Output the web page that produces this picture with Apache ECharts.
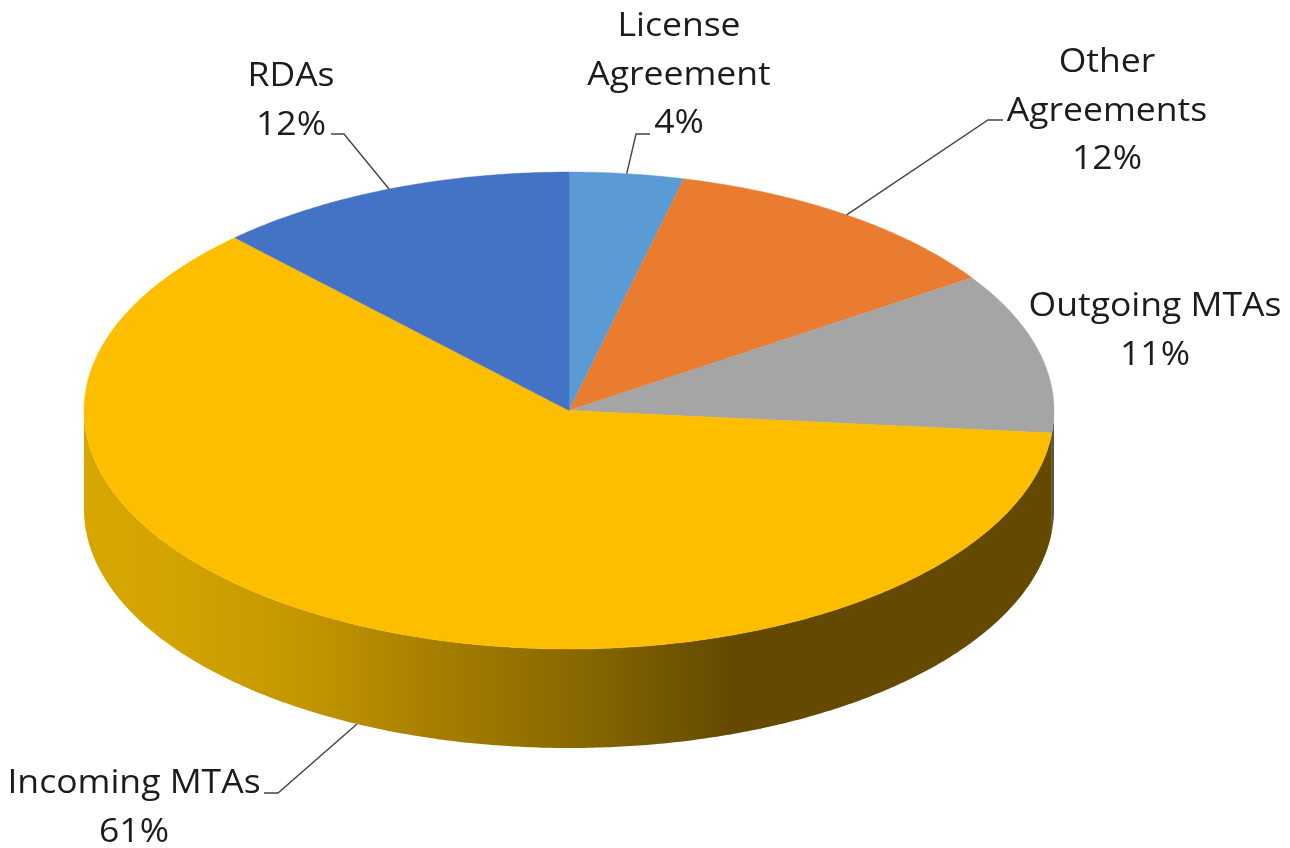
<!DOCTYPE html>
<html>
<head>
<meta charset="utf-8">
<style>html,body{margin:0;padding:0;background:#fff}#c{width:1290px;height:848px}</style>
<script src="https://cdn.jsdelivr.net/npm/echarts@6/dist/echarts.min.js"></script>
</head>
<body>
<div id="c"></div>
<script>
// Data
var categories = ['License\nAgreement', 'Other\nAgreements', 'Outgoing MTAs', 'Incoming MTAs', 'RDAs'];
var shares = [3.8, 11.8, 10.9, 61.4, 12.1];

// Styling
var topColors = ['#5B9BD5', '#EA7C30', '#A5A5A5', '#FDBE00', '#4472C4'];
var FONT = 'Open Sans';
var FONT_SIZE = 32;
var TEXT_STRETCH = 1.11;
var LINE_H = 48.5;
var TEXT_COLOR = '#1c1c1c';

// Pie geometry (an elliptical disc seen in perspective)
var CX = 569, CY = 410.5, RX = 485, RY = 238.5, DEPTH = 99;

// Label placement: centre of the text block's first line, and leader elbow
var labelLayout = [
  { x: 679,  y: 27,  elbow: [636, 134],  end: [650, 134] },
  { x: 1107, y: 63,  elbow: [988, 120],  end: [1003, 120] },
  { x: 1155, y: 307 },
  { x: 134,  y: 784, elbow: [278, 793],  end: [264, 793], onWall: true },
  { x: 291,  y: 77,  elbow: [344, 134],  end: [331, 134] }
];

var total = shares.reduce(function (a, b) { return a + b; }, 0);
var bounds = [0];
shares.forEach(function (v, i) { bounds.push(bounds[i] + v / total * 360); });

function pt(deg, dy) {
  var r = deg * Math.PI / 180;
  return [CX + RX * Math.sin(r), CY - RY * Math.cos(r) + (dy || 0)];
}
function arc(a0, a1, dy) {
  var pts = [], n = Math.max(2, Math.ceil(Math.abs(a1 - a0) * 2));
  for (var k = 0; k <= n; k++) pts.push(pt(a0 + (a1 - a0) * k / n, dy));
  return pts;
}

var wallFill = {
  type: 'linear', global: true, x: CX - RX, y: 0, x2: CX + RX, y2: 0,
  colorStops: [
    { offset: 0, color: '#D7A600' },
    { offset: 0.09, color: '#D3A300' },
    { offset: 0.22, color: '#C49700' },
    { offset: 0.36, color: '#A77F00' },
    { offset: 0.50, color: '#8A6A00' },
    { offset: 0.667, color: '#644A00' },
    { offset: 1, color: '#644A00' }
  ]
};
var wallColors = [null, null, '#55554F', wallFill, wallFill];

function renderWall(params) {
  var i = params.dataIndex;
  var a0 = Math.max(bounds[i], 90), a1 = Math.min(bounds[i + 1], 270);
  if (a1 <= a0) return { type: 'group', children: [] };
  var pts = arc(a0, a1, 0).concat(arc(a1, a0, DEPTH));
  return { type: 'polygon', shape: { points: pts }, style: { fill: wallColors[i] } };
}
function renderTop(params) {
  var i = params.dataIndex;
  var pts = [[CX, CY]].concat(arc(bounds[i], bounds[i + 1], 0));
  return { type: 'polygon', shape: { points: pts }, style: { fill: topColors[i], stroke: topColors[i], lineWidth: 0.4 } };
}
function renderLabel(params) {
  var i = params.dataIndex, l = labelLayout[i], kids = [];
  var lines = categories[i].split('\n').concat(Math.round(shares[i] / total * 100) + '%');
  lines.forEach(function (t, k) {
    kids.push({
      type: 'text',
      x: l.x, y: l.y + k * LINE_H, scaleX: TEXT_STRETCH,
      style: {
        text: t, x: 0, y: 0, align: 'center', verticalAlign: 'middle',
        fontFamily: FONT, fontSize: FONT_SIZE, fill: TEXT_COLOR
      }
    });
  });
  if (l.elbow) {
    var mid = (bounds[i] + bounds[i + 1]) / 2;
    kids.push({
      type: 'polyline',
      shape: { points: [pt(mid, l.onWall ? DEPTH : 0), l.elbow, l.end] },
      style: { fill: 'none', stroke: '#444', lineWidth: 1.4 }
    });
  }
  return { type: 'group', children: kids };
}

var chart = echarts.init(document.getElementById('c'), null, { renderer: 'canvas' });
chart.setOption({
  animation: false,
  backgroundColor: '#fff',
  series: [
    { type: 'custom', coordinateSystem: 'none', silent: true, data: shares, renderItem: renderWall, z: 1 },
    { type: 'custom', coordinateSystem: 'none', silent: true, data: shares, renderItem: renderTop, z: 2 },
    { type: 'custom', coordinateSystem: 'none', silent: true, data: shares, renderItem: renderLabel, z: 3 }
  ]
});
</script>
</body>
</html>
